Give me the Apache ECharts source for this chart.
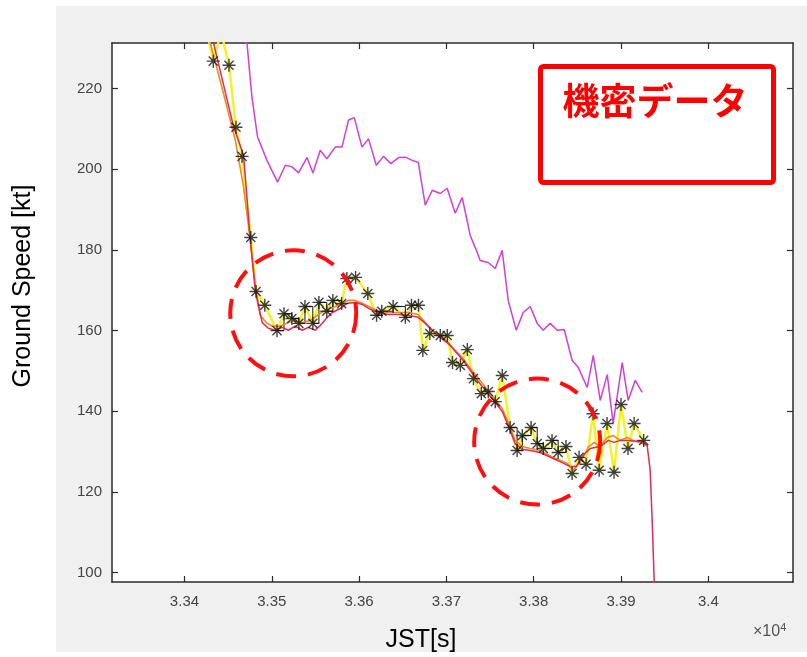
<!DOCTYPE html>
<html><head><meta charset="utf-8">
<script src="https://cdn.jsdelivr.net/npm/echarts@6/dist/echarts.min.js"></script>
<style>html,body{margin:0;padding:0;background:#fff}#c{width:807px;height:657px}</style>
</head><body><div id="c"></div>
<script>
// ---- axis ticks ----
const xTicks = [33400, 33500, 33600, 33700, 33800, 33900, 34000];
const xTickLabels = ['3.34', '3.35', '3.36', '3.37', '3.38', '3.39', '3.4'];
const yTicks = [100, 120, 140, 160, 180, 200, 220];
const yTickLabels = ['100', '120', '140', '160', '180', '200', '220'];

// ---- raw ground speed (yellow line + asterisk markers) ----
const rawX = [33424, 33433, 33442, 33451, 33459, 33466, 33476, 33482, 33492, 33506, 33514, 33523, 33531, 33538, 33547, 33554, 33563, 33570, 33580, 33586, 33596, 33610, 33620, 33626, 33639, 33653, 33660, 33668, 33673, 33681, 33693, 33701, 33707, 33716, 33724, 33731, 33740, 33748, 33756, 33764, 33773, 33781, 33787, 33797, 33804, 33811, 33821, 33828, 33837, 33844, 33852, 33860, 33868, 33875, 33884, 33892, 33900, 33908, 33915, 33926];
const rawY = [236, 226.8, 234, 225.8, 210.4, 203.2, 183.1, 169.7, 166.3, 160.0, 164.2, 163.0, 161.8, 166.0, 161.8, 167.0, 164.8, 167.5, 166.7, 172.9, 173.2, 169.2, 163.8, 164.8, 166.0, 163.3, 166.3, 166.3, 155.1, 159.3, 158.8, 158.8, 152.1, 151.4, 155.3, 148.1, 144.4, 144.9, 142.4, 148.9, 136.0, 130.3, 134.0, 136.0, 132.0, 130.8, 132.8, 129.8, 131.3, 124.6, 128.6, 126.9, 139.4, 125.4, 137.0, 124.9, 141.7, 130.8, 137.0, 132.8];

// ---- stairs version of raw data (black), partial ----
const stepX = [33506, 33514, 33523, 33531, 33538, 33547, 33554, 33563, 33570, 33580, null, 33620, 33626, 33639, 33653, 33660, 33668, null, 33773, 33781, 33787, 33797, 33804, 33811, 33821, 33828, 33837];
const stepY = [160.0, 164.2, 163.0, 161.8, 166.0, 161.8, 167.0, 164.8, 167.5, 166.7, null, 163.8, 164.8, 166.0, 163.3, 166.3, 166.3, null, 136.0, 130.3, 134.0, 136.0, 132.0, 130.8, 132.8, 129.8, 131.3];

// ---- smoothed speed 1 (orange) ----
const orangeX = [33427.3, 33434.2, 33446.7, 33458.2, 33467.4, 33475.4, 33481.1, 33486.8, 33493.7, 33500.6, 33509.7, 33518.9, 33526.9, 33534.9, 33544.1, 33553.2, 33561.3, 33570.4, 33578.4, 33587.6, 33595.6, 33603.6, 33612.8, 33621.9, 33633.4, 33644.8, 33656.3, 33667.8, 33675.8, 33683.8, 33692.9, 33702.1, 33710.1, 33718.1, 33727.3, 33736.5, 33745.6, 33754.8, 33763.9, 33770.8, 33778.8, 33786.8, 33796.0, 33807.4, 33822.3, 33838.4, 33845.2, 33853.3, 33862.4, 33869.3, 33876.2, 33884.2, 33891.0, 33899.1, 33907.1, 33914.0, 33924.3, 33930.0];
const orangeY = [233.2, 227.5, 217.1, 207.2, 196.0, 182.4, 171.2, 163.8, 162.0, 161.1, 161.1, 162.0, 162.5, 162.0, 162.5, 164.0, 165.0, 165.8, 166.5, 167.5, 167.5, 166.8, 165.8, 164.8, 164.5, 164.5, 164.5, 164.0, 162.0, 160.1, 158.8, 157.1, 155.1, 153.4, 150.6, 148.2, 145.7, 143.2, 140.7, 137.3, 132.8, 131.3, 130.8, 130.3, 128.6, 127.1, 125.4, 127.3, 131.1, 132.3, 131.3, 133.5, 134.0, 132.8, 133.5, 132.8, 132.0, 131.5];

// ---- smoothed speed 2 (red / pink) ----
const redX = [33430.7, 33433.4, 33456.3, 33467.7, 33475.4, 33481.1, 33484.5, 33489.1, 33496.0, 33504.0, 33512.0, 33518.9, 33526.9, 33534.9, 33541.8, 33549.8, 33555.5, 33562.4, 33569.3, 33578.4, 33586.5, 33595.6, 33603.6, 33612.8, 33621.9, 33633.4, 33644.8, 33656.3, 33667.8, 33675.8, 33683.8, 33692.9, 33702.1, 33711.3, 33719.3, 33727.3, 33736.5, 33745.6, 33754.8, 33763.9, 33770.8, 33778.8, 33786.8, 33796.0, 33807.4, 33822.3, 33832.6, 33841.8, 33848.7, 33855.5, 33864.7, 33871.6, 33878.5, 33885.3, 33892.2, 33899.1, 33908.2, 33916.3, 33924.3, 33930.0, 33933.4, 33935.7, 33938.0, 33940.3];
const redY = [233.2, 231.2, 210.5, 203.5, 182.4, 170.0, 166.3, 162.0, 160.6, 160.1, 160.8, 160.1, 161.1, 160.1, 160.8, 160.1, 161.3, 163.0, 164.5, 165.5, 166.8, 167.0, 166.5, 165.3, 164.5, 164.0, 164.0, 163.8, 163.3, 161.8, 160.1, 158.3, 156.8, 154.6, 152.6, 150.2, 147.4, 144.9, 142.5, 140.0, 136.5, 132.0, 130.6, 130.3, 129.8, 128.3, 127.3, 126.3, 126.3, 128.8, 130.8, 131.1, 131.6, 132.8, 132.3, 132.8, 132.8, 132.6, 132.6, 131.5, 125.4, 113.0, 98.1, 88.2];

// ---- other speed (magenta) ----
const magX = [33458.2, 33471.6, 33477.3, 33483.7, 33494.5, 33506.6, 33515.5, 33523.1, 33530.7, 33540.3, 33547.2, 33555.5, 33563.2, 33572.7, 33580.4, 33587.9, 33594.5, 33603.3, 33610.8, 33619.7, 33628.0, 33636.5, 33645.2, 33652.9, 33660.9, 33667.8, 33675.8, 33683.8, 33692.9, 33700.9, 33710.1, 33718.1, 33727.3, 33735.3, 33738.7, 33747.9, 33755.9, 33763.9, 33770.8, 33780.0, 33788.0, 33796.0, 33804.0, 33810.9, 33818.9, 33826.9, 33834.9, 33844.1, 33851.0, 33861.3, 33868.2, 33876.2, 33884.2, 33891.0, 33901.4, 33908.2, 33916.3, 33924.3];
const magY = [233.2, 231.2, 217.9, 208.0, 202.2, 196.8, 201.0, 200.6, 199.1, 202.9, 199.1, 204.7, 202.6, 205.5, 205.5, 212.2, 212.8, 205.5, 207.6, 201.0, 203.2, 201.4, 202.9, 203.0, 202.2, 201.7, 191.1, 194.8, 194.0, 195.3, 189.1, 193.0, 183.6, 179.4, 177.4, 176.9, 175.4, 179.9, 167.5, 160.1, 164.5, 166.0, 161.8, 160.1, 161.8, 160.1, 160.3, 152.6, 150.9, 145.9, 153.9, 142.7, 149.1, 137.0, 152.1, 142.7, 147.7, 144.7];

// ---- annotation circle centres (data coordinates) ----
const circleCenters = [[33524.6, 164.3], [33804.0, 132.5]];

const zip = (xs, ys) => xs.map((x, i) => (x === null ? null : [x, ys[i]]));
const chart = echarts.init(document.getElementById('c'), null, { renderer: 'canvas' });

const FONT = '"Liberation Sans", Arial, sans-serif';
const xMin = 33317, xMax = 34097, yMin = 97.7, yMax = 231.3;
const axisLineStyle = { color: '#2b2b2b', width: 1.5 };
const tickStyle = { color: '#2b2b2b', width: 1.2 };
const asterisk = 'path://M10,0L10,20M0,10L20,10M3,3L17,17M3,17L17,3';

chart.setOption({
  animation: false,
  backgroundColor: '#ffffff',
  grid: { left: 112, right: 14, top: 43, bottom: 75, show: true, backgroundColor: '#ffffff', borderWidth: 0 },
  xAxis: [
    { type: 'value', min: xMin, max: xMax, position: 'bottom',
      axisLine: { show: true, onZero: false, lineStyle: axisLineStyle },
      axisTick: { show: true, inside: true, length: 6, lineStyle: tickStyle, customValues: xTicks },
      axisLabel: { show: true, margin: 12, color: '#444444', fontSize: 15, fontFamily: FONT, customValues: xTicks,
        formatter: v => xTickLabels[xTicks.indexOf(v)] },
      splitLine: { show: false } },
    { type: 'value', min: xMin, max: xMax, position: 'top',
      axisLine: { show: true, onZero: false, lineStyle: axisLineStyle },
      axisTick: { show: true, inside: true, length: 6, lineStyle: tickStyle, customValues: xTicks },
      axisLabel: { show: false }, splitLine: { show: false } }
  ],
  yAxis: [
    { type: 'value', min: yMin, max: yMax, position: 'left',
      axisLine: { show: true, onZero: false, lineStyle: axisLineStyle },
      axisTick: { show: true, inside: true, length: 6, lineStyle: tickStyle, customValues: yTicks },
      axisLabel: { show: true, margin: 10, color: '#444444', fontSize: 15, fontFamily: FONT, customValues: yTicks,
        formatter: v => yTickLabels[yTicks.indexOf(v)] },
      splitLine: { show: false } },
    { type: 'value', min: yMin, max: yMax, position: 'right',
      axisLine: { show: true, onZero: false, lineStyle: axisLineStyle },
      axisTick: { show: true, inside: true, length: 6, lineStyle: tickStyle, customValues: yTicks },
      axisLabel: { show: false }, splitLine: { show: false } }
  ],
  series: [
    { name: 'raw', type: 'line', data: zip(rawX, rawY), symbol: 'none', z: 2,
      lineStyle: { color: '#f2f22a', width: 2.5 }, emphasis: { disabled: true } },
    { name: 'stairs', type: 'line', step: 'end', data: zip(stepX, stepY), symbol: 'none', z: 3, connectNulls: false,
      lineStyle: { color: '#111111', width: 1 }, emphasis: { disabled: true } },
    { name: 'mag', type: 'line', data: zip(magX, magY), symbol: 'none', z: 3,
      lineStyle: { color: '#d23ed6', width: 1.5 }, emphasis: { disabled: true } },
    { name: 'orange', type: 'line', data: zip(orangeX, orangeY), symbol: 'none', z: 4,
      lineStyle: { color: '#ee8a1c', width: 1.6 }, emphasis: { disabled: true } },
    { name: 'red', type: 'line', data: zip(redX, redY), symbol: 'none', z: 4,
      lineStyle: { color: '#e3285a', width: 1.5 }, emphasis: { disabled: true } },
    { name: 'markers', type: 'scatter', data: zip(rawX, rawY), symbol: asterisk, symbolSize: 13, z: 6,
      itemStyle: { color: 'rgba(0,0,0,0)', borderColor: '#111111', borderWidth: 1.4 },
      emphasis: { disabled: true } }
  ]
});

const graphics = [
  { type: 'rect', z: -100, silent: true, shape: { x: 56, y: 6, width: 751, height: 646 }, style: { fill: '#f0f0f0' } },
  { type: 'text', z: 100, silent: true, x: 23, y: 286, rotation: Math.PI / 2,
    style: { text: 'Ground Speed [kt]', font: '25px ' + FONT, fill: '#000', align: 'center', verticalAlign: 'middle' } },
  { type: 'text', z: 100, silent: true, x: 421, y: 640,
    style: { text: 'JST[s]', font: '25px ' + FONT, fill: '#000', align: 'center', verticalAlign: 'middle' } },
  { type: 'text', z: 100, silent: true, x: 753, y: 622,
    style: { text: '×10{s|4}', font: '16px ' + FONT, fill: '#555', rich: { s: { fontSize: 11, fill: '#555', verticalAlign: 'top', padding: [0, 0, 8, 0] } } } },
  { type: 'rect', z: 100, silent: true, shape: { x: 540.5, y: 66.5, width: 233, height: 116, r: 3 },
    style: { fill: '#ffffff', stroke: '#ff0000', lineWidth: 5 } },
  { type: 'text', z: 101, silent: true, x: 655, y: 101,
    style: { text: '機密データ', font: 'bold 37px "Noto Sans CJK JP"', fill: '#ff0000', align: 'center', verticalAlign: 'middle' } }
];
circleCenters.forEach(c => {
  const p = chart.convertToPixel({ gridIndex: 0 }, c);
  graphics.push({ type: 'circle', z: 100, silent: true, shape: { cx: p[0], cy: p[1], r: 63 },
    style: { fill: 'none', stroke: '#ff1010', lineWidth: 4, lineDash: [20, 12] } });
});
chart.setOption({ graphic: graphics });
</script>
</body></html>
